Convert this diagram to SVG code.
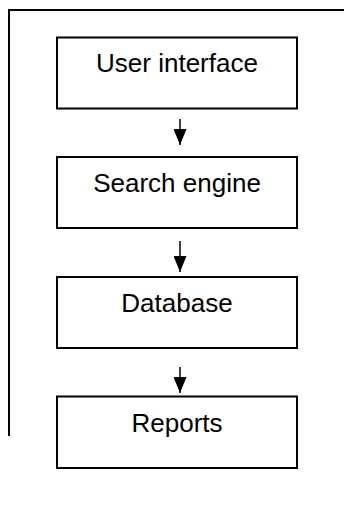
<svg xmlns="http://www.w3.org/2000/svg" width="344" height="518" viewBox="0 0 344 518">
<defs>
<style>
.box{fill:#fff;stroke:#000;stroke-width:2}
.lbl{font-family:"Liberation Sans",Arial,sans-serif;font-size:26px;fill:#000;text-anchor:middle}
.ln{stroke:#000;stroke-width:1.5;fill:none}
.frame{stroke:#000;stroke-width:2;fill:none}
</style>
<marker id="ah" markerUnits="userSpaceOnUse" markerWidth="16" markerHeight="13" refX="16" refY="6.5" orient="auto" viewBox="0 0 16 13">
<path d="M0,0 L16,6.5 L0,13 Z" fill="#000"/>
</marker>
</defs>
<rect width="344" height="518" fill="#fff"/>
<path class="frame" d="M9,436 L9,10 L344,10"/>
<g id="connectors">
<line class="ln" x1="180" y1="119" x2="180" y2="145" marker-end="url(#ah)"/>
<line class="ln" x1="180" y1="241" x2="180" y2="272" marker-end="url(#ah)"/>
<line class="ln" x1="180" y1="367" x2="180" y2="393" marker-end="url(#ah)"/>
</g>
<g id="user-interface">
<rect class="box" x="57" y="37.5" width="240" height="71"/>
<text class="lbl" x="177" y="72">User interface</text>
</g>
<g id="search-engine">
<rect class="box" x="57" y="157" width="240" height="71"/>
<text class="lbl" x="177" y="191.5">Search engine</text>
</g>
<g id="database">
<rect class="box" x="57" y="277" width="240" height="71"/>
<text class="lbl" x="177" y="311.5">Database</text>
</g>
<g id="reports">
<rect class="box" x="57" y="396.5" width="240" height="71.5"/>
<text class="lbl" x="177" y="432">Reports</text>
</g>
</svg>
